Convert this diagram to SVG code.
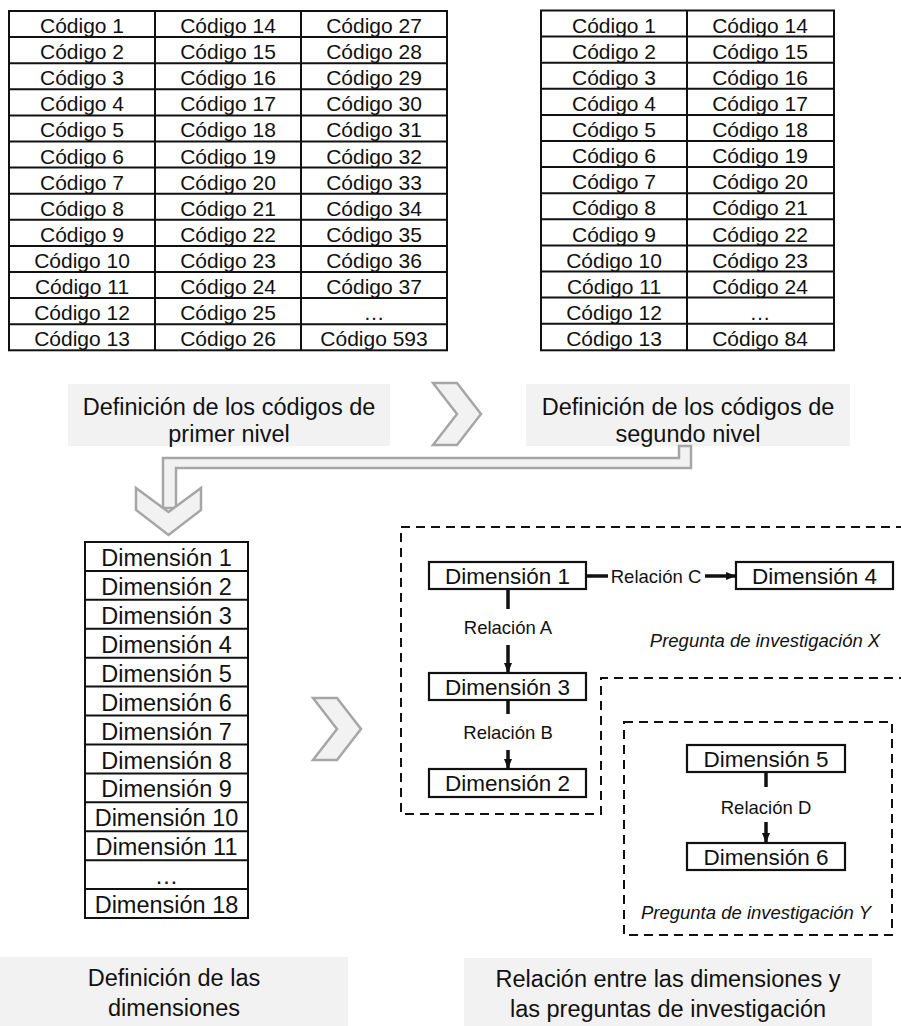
<svg xmlns="http://www.w3.org/2000/svg" width="901" height="1026" viewBox="0 0 901 1026">
  <style>
    text { font-family: "Liberation Sans", Arial, sans-serif; fill: #111; text-anchor: middle; }
    .cell { fill: #fff; stroke: #111; stroke-width: 2; }
    .grid { stroke: #111; stroke-width: 2; fill: none; }
    .code { font-size: 21px; }
    .dim { font-size: 23.5px; }
    .dbox { fill: #fff; stroke: #111; stroke-width: 2.2; }
    .dtxt { font-size: 22.5px; }
    .rel { font-size: 18.5px; }
    .q { font-size: 18.5px; font-style: italic; }
    .label { fill: #f2f2f2; }
    .ltxt { font-size: 23.5px; }
    .chev { fill: #f2f2f2; stroke: #a6a6a6; stroke-width: 2.5; stroke-linejoin: miter; }
    .dash { fill: none; stroke: #111; stroke-width: 2; stroke-dasharray: 9 6; }
    .link { stroke: #111; stroke-width: 3.5; fill: none; }
  </style>
  <defs>
    <marker id="head" markerUnits="userSpaceOnUse" markerWidth="10" markerHeight="10" viewBox="0 0 10 10" refX="10" refY="5" orient="auto">
      <path d="M0,1 L10,5 L0,9 Z" fill="#111"/>
    </marker>
  </defs>

  <!-- first-level code table -->
  <g id="tabla-primer-nivel">
    <rect class="cell" x="9" y="11" width="438" height="339.3"/>
    <path class="grid" d="M155,11V350.3M301,11V350.3
      M9,37.1H447M9,63.2H447M9,89.3H447M9,115.4H447M9,141.5H447M9,167.6H447
      M9,193.7H447M9,219.8H447M9,245.9H447M9,272H447M9,298.1H447M9,324.2H447"/>
    <g class="code">
      <text x="82" y="33">Código 1</text><text x="82" y="59.1">Código 2</text><text x="82" y="85.2">Código 3</text>
      <text x="82" y="111.3">Código 4</text><text x="82" y="137.4">Código 5</text><text x="82" y="163.5">Código 6</text>
      <text x="82" y="189.6">Código 7</text><text x="82" y="215.7">Código 8</text><text x="82" y="241.8">Código 9</text>
      <text x="82" y="267.9">Código 10</text><text x="82" y="294">Código 11</text><text x="82" y="320.1">Código 12</text>
      <text x="82" y="346.2">Código 13</text>
      <text x="228" y="33">Código 14</text><text x="228" y="59.1">Código 15</text><text x="228" y="85.2">Código 16</text>
      <text x="228" y="111.3">Código 17</text><text x="228" y="137.4">Código 18</text><text x="228" y="163.5">Código 19</text>
      <text x="228" y="189.6">Código 20</text><text x="228" y="215.7">Código 21</text><text x="228" y="241.8">Código 22</text>
      <text x="228" y="267.9">Código 23</text><text x="228" y="294">Código 24</text><text x="228" y="320.1">Código 25</text>
      <text x="228" y="346.2">Código 26</text>
      <text x="374" y="33">Código 27</text><text x="374" y="59.1">Código 28</text><text x="374" y="85.2">Código 29</text>
      <text x="374" y="111.3">Código 30</text><text x="374" y="137.4">Código 31</text><text x="374" y="163.5">Código 32</text>
      <text x="374" y="189.6">Código 33</text><text x="374" y="215.7">Código 34</text><text x="374" y="241.8">Código 35</text>
      <text x="374" y="267.9">Código 36</text><text x="374" y="294">Código 37</text><text x="374" y="320.1">…</text>
      <text x="374" y="346.2">Código 593</text>
    </g>
  </g>

  <!-- second-level code table -->
  <g id="tabla-segundo-nivel">
    <rect class="cell" x="541" y="10.5" width="293" height="339.8"/>
    <path class="grid" d="M687,10.5V350.3
      M541,36.6H834M541,62.7H834M541,88.8H834M541,114.9H834M541,141H834M541,167.1H834
      M541,193.2H834M541,219.3H834M541,245.4H834M541,271.5H834M541,297.6H834M541,323.7H834"/>
    <g class="code">
      <text x="614" y="32.7">Código 1</text><text x="614" y="58.8">Código 2</text><text x="614" y="84.9">Código 3</text>
      <text x="614" y="111">Código 4</text><text x="614" y="137.1">Código 5</text><text x="614" y="163.2">Código 6</text>
      <text x="614" y="189.3">Código 7</text><text x="614" y="215.4">Código 8</text><text x="614" y="241.5">Código 9</text>
      <text x="614" y="267.6">Código 10</text><text x="614" y="293.7">Código 11</text><text x="614" y="319.8">Código 12</text>
      <text x="614" y="345.9">Código 13</text>
      <text x="760" y="32.7">Código 14</text><text x="760" y="58.8">Código 15</text><text x="760" y="84.9">Código 16</text>
      <text x="760" y="111">Código 17</text><text x="760" y="137.1">Código 18</text><text x="760" y="163.2">Código 19</text>
      <text x="760" y="189.3">Código 20</text><text x="760" y="215.4">Código 21</text><text x="760" y="241.5">Código 22</text>
      <text x="760" y="267.6">Código 23</text><text x="760" y="293.7">Código 24</text><text x="760" y="319.8">…</text>
      <text x="760" y="345.9">Código 84</text>
    </g>
  </g>

  <!-- step captions -->
  <g id="paso-primer-nivel">
    <rect class="label" x="68" y="384" width="322" height="62"/>
    <text class="ltxt" x="229" y="415">Definición de los códigos de</text>
    <text class="ltxt" x="229" y="442">primer nivel</text>
  </g>
  <g id="paso-segundo-nivel">
    <rect class="label" x="526" y="384" width="324" height="62"/>
    <text class="ltxt" x="688" y="415">Definición de los códigos de</text>
    <text class="ltxt" x="688" y="442">segundo nivel</text>
  </g>
  <g id="paso-dimensiones">
    <rect class="label" x="0" y="957" width="348" height="69"/>
    <text class="ltxt" x="174" y="986">Definición de las</text>
    <text class="ltxt" x="174" y="1016">dimensiones</text>
  </g>
  <g id="paso-relaciones">
    <rect class="label" x="464" y="958" width="408" height="68"/>
    <text class="ltxt" x="668" y="987">Relación entre las dimensiones y</text>
    <text class="ltxt" x="668" y="1017">las preguntas de investigación</text>
  </g>

  <!-- dimension list -->
  <g id="lista-dimensiones">
    <rect class="cell" x="85" y="542" width="163" height="376"/>
    <path class="grid" d="M85,570.9H248M85,599.8H248M85,628.8H248M85,657.7H248M85,686.6H248M85,715.5H248
      M85,744.5H248M85,773.4H248M85,802.3H248M85,831.2H248M85,860.2H248M85,889.1H248"/>
    <g class="dim">
      <text x="166.5" y="566">Dimensión 1</text><text x="166.5" y="594.9">Dimensión 2</text>
      <text x="166.5" y="623.8">Dimensión 3</text><text x="166.5" y="652.8">Dimensión 4</text>
      <text x="166.5" y="681.7">Dimensión 5</text><text x="166.5" y="710.6">Dimensión 6</text>
      <text x="166.5" y="739.5">Dimensión 7</text><text x="166.5" y="768.5">Dimensión 8</text>
      <text x="166.5" y="797.4">Dimensión 9</text><text x="166.5" y="826.3">Dimensión 10</text>
      <text x="166.5" y="855.2">Dimensión 11</text><text x="166.5" y="884.2">…</text>
      <text x="166.5" y="913.1">Dimensión 18</text>
    </g>
  </g>

  <!-- research question regions -->
  <g id="pregunta-x">
    <path class="dash" d="M905,527H401V814H601V678H905"/>
    <text class="q" x="765" y="647">Pregunta de investigación X</text>
  </g>
  <g id="pregunta-y">
    <rect class="dash" x="624" y="722" width="268" height="213"/>
    <text class="q" x="756" y="919">Pregunta de investigación Y</text>
  </g>

  <!-- dimension nodes -->
  <g id="dim1"><rect class="dbox" x="429" y="562" width="157" height="27"/><text class="dtxt" x="507.5" y="584">Dimensión 1</text></g>
  <g id="dim4"><rect class="dbox" x="736" y="562" width="157" height="27"/><text class="dtxt" x="814.5" y="584">Dimensión 4</text></g>
  <g id="dim3"><rect class="dbox" x="429" y="673" width="157" height="27"/><text class="dtxt" x="507.5" y="695">Dimensión 3</text></g>
  <g id="dim2"><rect class="dbox" x="429" y="769" width="157" height="28"/><text class="dtxt" x="507.5" y="791">Dimensión 2</text></g>
  <g id="dim5"><rect class="dbox" x="687" y="745" width="158" height="27"/><text class="dtxt" x="766" y="767">Dimensión 5</text></g>
  <g id="dim6"><rect class="dbox" x="687" y="843" width="158" height="27"/><text class="dtxt" x="766" y="865">Dimensión 6</text></g>

  <!-- connectors -->
  <g id="conectores">
    <!-- process chevrons -->
    <path class="chev" d="M433,383H457L481,414L457,445H433L457,414Z"/>
    <path class="chev" d="M313,698H337L361,729L337,760H313L337,729Z"/>
    <!-- bent band from second-level step down to the dimension list -->
    <path class="chev" d="M679,446H691V468H176V508H163V458H679Z"/>
    <path class="chev" d="M136,488L168.5,512L201,488V510L168.5,535L136,510Z"/>

    <!-- relations between dimensions -->
    <path class="link" d="M586,576H608"/>
    <path class="link" d="M705,576H736" marker-end="url(#head)"/>
    <text class="rel" x="656" y="582.5">Relación C</text>

    <path class="link" d="M508,589V609"/>
    <path class="link" d="M508,645V673" marker-end="url(#head)"/>
    <text class="rel" x="508" y="634">Relación A</text>

    <path class="link" d="M508,700V714"/>
    <path class="link" d="M508,750V769" marker-end="url(#head)"/>
    <text class="rel" x="508" y="739">Relación B</text>

    <path class="link" d="M766,772V787"/>
    <path class="link" d="M766,822V843" marker-end="url(#head)"/>
    <text class="rel" x="766" y="814">Relación D</text>
  </g>
</svg>
